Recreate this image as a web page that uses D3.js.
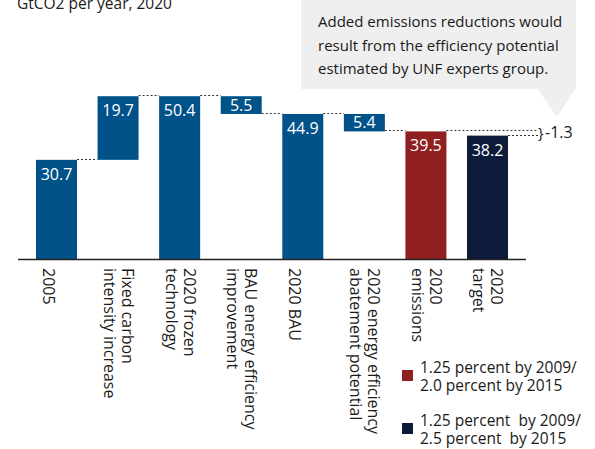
<!DOCTYPE html>
<html>
<head>
  <meta charset="utf-8">
  <script src="https://d3js.org/d3.v7.min.js" charset="utf-8"></script>
  <title>Emissions waterfall</title>
</head>
<style>
html, body {
  margin: 0;
  padding: 0;
  background: white;
  font-family: 'Open Sans', sans-serif;
}
svg {
  display: block;
}
text {
  fill: #1a1a1a;
}
.value {
  fill: white;
  font-size: 16px;
}
.link {
  stroke: #333;
  stroke-width: 1;
  stroke-dasharray: 2,2;
}
</style>
<body>
<script type="text/javascript">
// data
var categories = [
  ["2005"],
  ["Fixed carbon", "intensity increase"],
  ["2020 frozen", "technology"],
  ["BAU energy efficiency", "improvement"],
  ["2020 BAU"],
  ["2020 energy efficiency", "abatement potential"],
  ["2020", "emissions"],
  ["2020", "target"]
];
var values = [30.7, 19.7, 50.4, -5.5, 44.9, -5.4, 39.5, 38.2];
var kinds = ["total", "delta", "total", "delta", "total", "delta", "total", "total"];
var barColors = ["#02528a", "#02528a", "#02528a", "#02528a", "#02528a", "#02528a", "#901f1f", "#0c1b3a"];

var legendLabels = [
  ["1.25 percent by 2009/", "2.0 percent by 2015"],
  ["1.25 percent  by 2009/", "2.5 percent  by 2015"]
];
var legendColors = ["#901f1f", "#0c1b3a"];

var titleText = "GtCO2 per year, 2020";
var noteLines = [
  "Added emissions reductions would",
  "result from the efficiency potential",
  "estimated by UNF experts group."
];

var width = 595, height = 449;

var svg = d3.select("body").append("svg")
  .attr("width", width)
  .attr("height", height);

// scales
var x = d3.scaleBand()
  .domain(d3.range(values.length))
  .range([36, 508])
  .paddingInner(0.334)
  .paddingOuter(0);

var y = d3.scaleLinear()
  .domain([0, 50])
  .range([259, 97.5]);

// waterfall: start / end of every bar
var running = 0;
var bars = values.map(function(v, i) {
  var b = {i: i, value: v, kind: kinds[i]};
  if (kinds[i] == "total") {
    b.start = 0; b.end = v; running = v;
  } else {
    b.start = running; b.end = running + v; running = b.end;
  }
  b.lo = Math.min(b.start, b.end);
  b.hi = Math.max(b.start, b.end);
  return b;
});

// title (cut at the top like the original)
svg.append("text")
  .attr("x", 17)
  .attr("y", 9)
  .style("font-size", "15.5px")
  .text(titleText);

// callout box
var note = svg.append("g");
note.append("rect")
  .attr("x", 301).attr("y", -5)
  .attr("width", 275).attr("height", 94)
  .attr("fill", "#efefef");
note.append("polygon")
  .attr("points", "537,88 576,88 557,117")
  .attr("fill", "#efefef");
note.selectAll("text")
  .data(noteLines)
  .enter().append("text")
  .attr("x", 318)
  .attr("y", function(d, i) { return 27 + i * 23.5; })
  .style("font-size", "15px")
  .text(function(d) { return d; });

// dotted connectors
var annX = 538;
var links = bars.slice(0, bars.length - 1).map(function(b) {
  var x1 = x(b.i) + x.bandwidth();
  var x2 = b.i == bars.length - 2 ? annX : x(b.i + 1);
  return {x1: x1, x2: x2, v: b.end};
});
var last = bars[bars.length - 1];
links.push({x1: x(last.i) + x.bandwidth(), x2: annX, v: last.end});

svg.selectAll(".link")
  .data(links)
  .enter().append("line")
  .attr("class", "link")
  .attr("x1", function(d) { return d.x1; })
  .attr("x2", function(d) { return d.x2; })
  .attr("y1", function(d) { return Math.round(y(d.v)) - 0.5; })
  .attr("y2", function(d) { return Math.round(y(d.v)) - 0.5; });

// bars
svg.selectAll(".bar")
  .data(bars)
  .enter().append("rect")
  .attr("class", "bar")
  .attr("x", function(d) { return x(d.i); })
  .attr("width", x.bandwidth())
  .attr("y", function(d) { return y(d.hi); })
  .attr("height", function(d) { return y(d.lo) - y(d.hi); })
  .attr("fill", function(d) { return barColors[d.i]; });

// values inside the bars
svg.selectAll(".value")
  .data(bars)
  .enter().append("text")
  .attr("class", "value")
  .attr("text-anchor", "middle")
  .attr("x", function(d) { return x(d.i) + x.bandwidth() / 2; })
  .attr("y", function(d) {
    var h = y(d.lo) - y(d.hi);
    return h > 25 ? y(d.hi) + 20 : y(d.lo) - 3;
  })
  .text(function(d) { return Math.abs(d.value).toFixed(1); });

// difference between the last two bars
var diff = last.end - bars[bars.length - 2].end;
svg.append("text")
  .attr("x", annX)
  .attr("y", 138)
  .style("font-size", "15px")
  .text("}");
svg.append("text")
  .attr("x", annX + 7)
  .attr("y", 138)
  .style("font-size", "16px")
  .text(diff.toFixed(1));

// baseline
svg.append("line")
  .attr("x1", 18).attr("x2", 526)
  .attr("y1", y(0) + 0.5).attr("y2", y(0) + 0.5)
  .attr("stroke", "#222")
  .attr("stroke-width", 1.3);

// rotated category labels
var labels = svg.selectAll(".cat")
  .data(categories)
  .enter().append("text")
  .attr("class", "cat")
  .style("font-size", "16px")
  .attr("transform", function(d, i) {
    var cx = x(i) + x.bandwidth() / 2;
    var bx = cx - 14 + (d.length - 1) * 18;
    return "translate(" + bx + ",268) rotate(90)";
  });
labels.selectAll("tspan")
  .data(function(d) { return d; })
  .enter().append("tspan")
  .attr("x", 0)
  .attr("y", function(d, i) { return i * 18; })
  .text(function(d) { return d; });

// legend
var legend = svg.selectAll(".legend")
  .data(legendLabels)
  .enter().append("g")
  .attr("class", "legend")
  .attr("transform", function(d, i) { return "translate(402," + (370 + i * 53) + ")"; });
legend.append("rect")
  .attr("width", 11).attr("height", 11)
  .attr("fill", function(d, i) { return legendColors[i]; });
legend.selectAll("text")
  .data(function(d) { return d; })
  .enter().append("text")
  .attr("x", 18)
  .attr("y", function(d, i) { return 3 + i * 17.5; })
  .style("font-size", "15.5px")
  .style("white-space", "pre")
  .text(function(d) { return d; });
</script>
</body>
</html>
